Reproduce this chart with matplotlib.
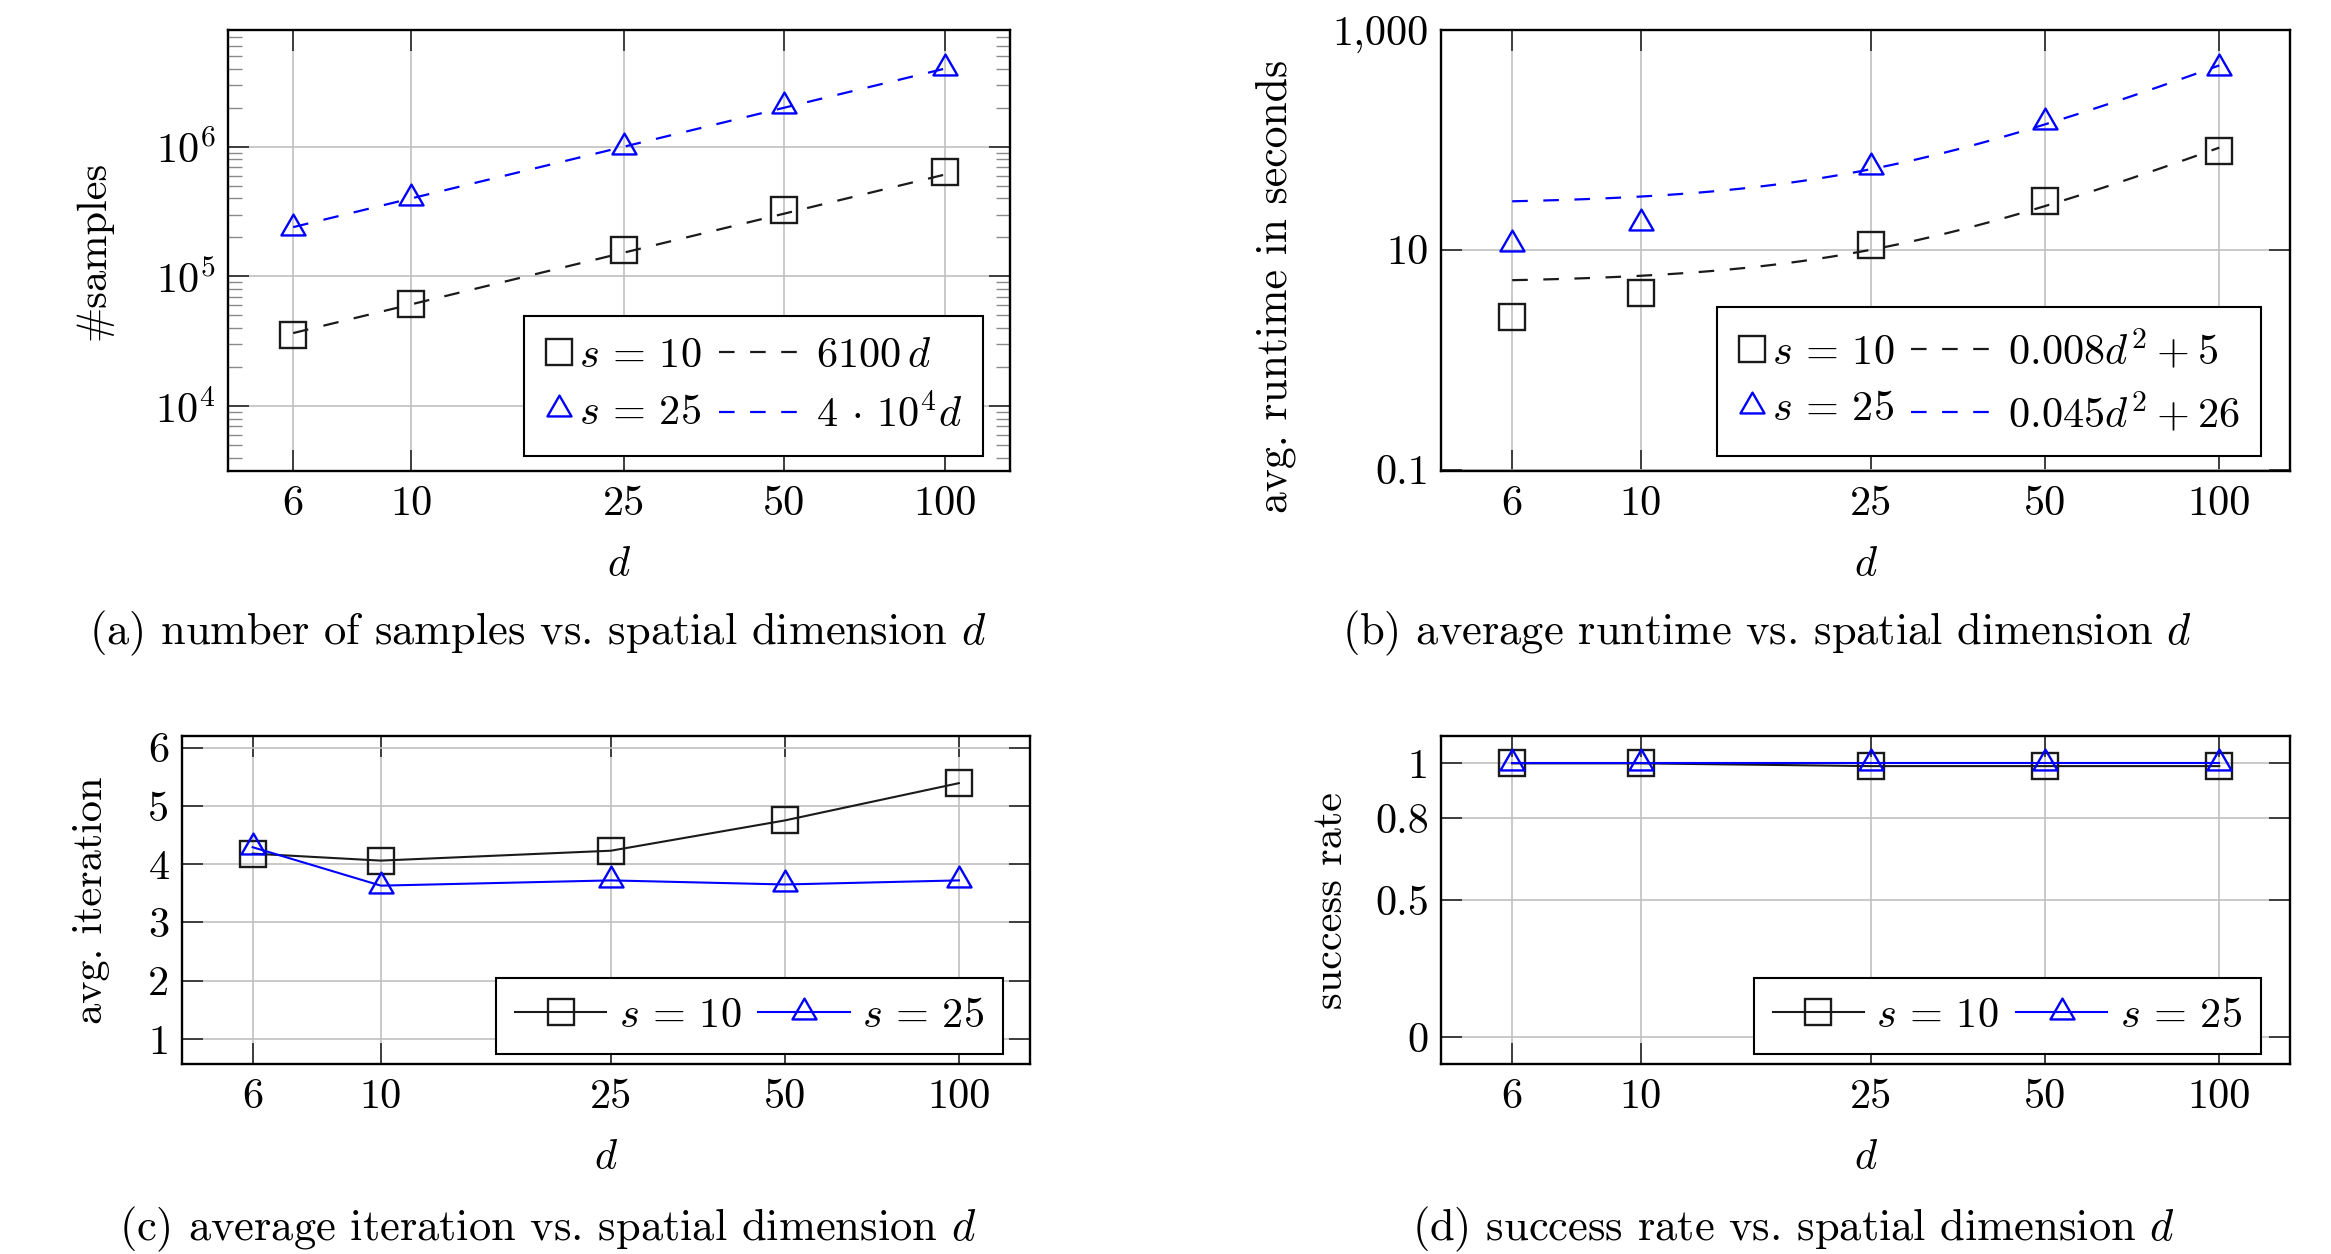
import numpy as np
import matplotlib
matplotlib.use("Agg")
import matplotlib.pyplot as plt
from matplotlib.path import Path
from matplotlib.legend_handler import HandlerLine2D
from matplotlib.ticker import NullLocator, LogLocator

plt.rcParams['font.family'] = 'serif'
plt.rcParams['font.serif'] = ['cmr10']
plt.rcParams['mathtext.fontset'] = 'cm'
plt.rcParams['axes.unicode_minus'] = False
plt.rcParams['axes.formatter.use_mathtext'] = True

# data
d = [6, 10, 25, 50, 100]
xtick_labels = ['6', '10', '25', '50', '100']

samples_s10 = [3.55e4, 6.15e4, 1.59e5, 3.23e5, 6.4e5]
samples_s25 = [2.35e5, 4.0e5, 1.0e6, 2.05e6, 4.05e6]
samples_fit = [6100, 4e4]            # c * d

runtime_s10 = [2.43, 4.06, 11.1, 28.0, 79.4]
runtime_s25 = [11.2, 17.6, 56.5, 147, 455]
runtime_fit_a = [0.008, 0.045]       # a * d^2 + b
runtime_fit_b = [5, 26]

iter_s10 = [4.18, 4.06, 4.23, 4.75, 5.39]
iter_s25 = [4.29, 3.63, 3.72, 3.65, 3.72]

success_s10 = [1.0, 1.0, 0.99, 0.99, 0.99]
success_s25 = [1.0, 1.0, 1.0, 1.0, 1.0]

W, H = 2331, 1254
BLK = '#1a1a1a'
BLU = '#0000ff'
FS = 30.5
CAP = 32

# pgfplots style triangle: anchored at its centre, not its bbox
tri = Path([(0, 1), (-0.866, -0.5), (0.866, -0.5), (0, 1)], closed=True)
sq_kw = dict(marker='s', ms=19, mfc='none', mec=BLK, mew=1.7)
tri_kw = dict(marker=tri, ms=20, mfc='none', mec=BLU, mew=1.7)


class MarkOnly(HandlerLine2D):
    def legend_artist(self, legend, orig_handle, fontsize, handlebox):
        handlebox.width = 0.64 * fontsize
        return super().legend_artist(legend, orig_handle, fontsize, handlebox)


def rect(l, r, t, b):
    return [l / W, 1 - b / H, (r - l) / W, (b - t) / H]


def style(ax):
    ax.set_xscale('log')
    ax.set_xlim(6 / 1.325, 100 * 1.325)
    ax.set_xticks(d)
    ax.set_xticklabels(xtick_labels)
    ax.xaxis.set_minor_locator(NullLocator())
    ax.grid(True, which='major', color='#c0c0c0', lw=1.2)
    ax.set_axisbelow(True)
    ax.tick_params(which='major', direction='in', top=True, right=True,
                   length=15, width=1.3, color='#333333', labelsize=FS)
    ax.tick_params(axis='x', pad=10.5)
    ax.tick_params(axis='y', pad=9)
    ax.tick_params(which='minor', direction='in', left=True, right=True,
                   length=10, width=1.0, color='#8a8a8a')
    for s in ax.spines.values():
        s.set_linewidth(1.7)
        s.set_color('black')


def fit_legend(ax, handles, labels, right, bottom, marks):
    leg = ax.legend(handles, labels, ncol=2, fontsize=FS, loc='lower right',
                    bbox_to_anchor=(right / W, 1 - bottom / H),
                    bbox_transform=fig.transFigure, borderaxespad=0,
                    fancybox=False, framealpha=1, edgecolor='black',
                    handlelength=2.0, handletextpad=0.15, columnspacing=0.4,
                    labelspacing=0.45, borderpad=0.5,
                    handler_map={m: MarkOnly() for m in marks})
    leg.get_frame().set_linewidth(1.5)


def line_legend(ax, handles, labels, right, bottom):
    leg = ax.legend(handles, labels, ncol=2, fontsize=FS, loc='lower right',
                    bbox_to_anchor=(right / W, 1 - bottom / H),
                    bbox_transform=fig.transFigure, borderaxespad=0,
                    fancybox=False, framealpha=1, edgecolor='black',
                    handlelength=2.15, handletextpad=0.3, columnspacing=0.4,
                    borderpad=0.45)
    leg.get_frame().set_linewidth(1.5)


fig = plt.figure(figsize=(W / 100, H / 100), dpi=100)
dd = np.geomspace(6, 100, 50)

# (a) number of samples
axa = fig.add_axes(rect(228, 1010, 30, 471))
style(axa)
axa.set_yscale('log')
axa.set_ylim(10 ** 3.5, 10 ** 6.9)
axa.set_yticks([1e4, 1e5, 1e6])
axa.set_yticklabels([r'$10^{4}$', r'$10^{5}$', r'$10^{6}$'])
axa.yaxis.set_minor_locator(LogLocator(base=10, subs=np.arange(2, 10)))
axa.yaxis.set_minor_formatter(plt.NullFormatter())
fa1, = axa.plot(dd, samples_fit[0] * dd, color=BLK, lw=1.6, dashes=(7, 7))
fa2, = axa.plot(dd, samples_fit[1] * dd, color=BLU, lw=1.6, dashes=(7, 7))
ma1, = axa.plot(d, samples_s10, ls='none', **sq_kw)
ma2, = axa.plot(d, samples_s25, ls='none', **tri_kw)
axa.set_ylabel('#samples', fontsize=FS)
axa.yaxis.set_label_coords(-0.148, 0.5)
axa.set_xlabel('$d$', fontsize=FS)
axa.xaxis.set_label_coords(0.5, -0.172)
fit_legend(axa, [ma1, ma2, fa1, fa2],
           [r'$s\,=\,10$', r'$s\,=\,25$', r'$\,6100\,d$', r'$\,4\,\cdot\,10^4d$'],
           983, 456, [ma1, ma2])

# (b) runtime
axb = fig.add_axes(rect(1441.5, 2290, 30, 471))
style(axb)
axb.set_yscale('log')
axb.set_ylim(0.097, 1000)
axb.set_yticks([0.1, 10, 1000])
axb.set_yticklabels(['0.1', '10', '1,000'])
axb.yaxis.set_minor_locator(NullLocator())
fb1, = axb.plot(dd, runtime_fit_a[0] * dd ** 2 + runtime_fit_b[0], color=BLK, lw=1.6, dashes=(7, 7))
fb2, = axb.plot(dd, runtime_fit_a[1] * dd ** 2 + runtime_fit_b[1], color=BLU, lw=1.6, dashes=(7, 7))
mb1, = axb.plot(d, runtime_s10, ls='none', **sq_kw)
mb2, = axb.plot(d, runtime_s25, ls='none', **tri_kw)
axb.set_ylabel('avg. runtime in seconds', fontsize=31.5)
axb.yaxis.set_label_coords(-0.172, 0.418)
axb.set_xlabel('$d$', fontsize=FS)
axb.xaxis.set_label_coords(0.5, -0.172)
fit_legend(axb, [mb1, mb2, fb1, fb2],
           [r'$s\,=\,10$', r'$s\,=\,25$', r'$\,0.008d^2+5$', r'$\,0.045d^2+26$'],
           2261, 456, [mb1, mb2])

# (c) iterations
axc = fig.add_axes(rect(182, 1029.5, 736, 1064.4))
style(axc)
axc.set_ylim(0.56, 6.2)
axc.set_yticks([1, 2, 3, 4, 5, 6])
axc.set_yticklabels(['1', '2', '3', '4', '5', '6'])
lc1, = axc.plot(d, iter_s10, color=BLK, lw=1.5, **sq_kw)
lc2, = axc.plot(d, iter_s25, color=BLU, lw=1.5, **tri_kw)
axc.set_ylabel('avg. iteration', fontsize=FS)
axc.yaxis.set_label_coords(-0.085, 0.5)
axc.set_xlabel('$d$', fontsize=FS)
axc.xaxis.set_label_coords(0.5, -0.228)
line_legend(axc, [lc1, lc2], [r'$s\,=\,10$', r'$s\,=\,25$'], 1003.5, 1054)

# (d) success rate
axd = fig.add_axes(rect(1441.5, 2290, 736, 1064.4))
style(axd)
axd.set_ylim(-0.1, 1.1)
axd.set_yticks([0, 0.5, 0.8, 1])
axd.set_yticklabels(['0', '0.5', '0.8', '1'])
ld1, = axd.plot(d, success_s10, color=BLK, lw=1.5, **sq_kw)
ld2, = axd.plot(d, success_s25, color=BLU, lw=1.5, **tri_kw)
axd.set_ylabel('success rate', fontsize=FS)
axd.yaxis.set_label_coords(-0.108, 0.5)
axd.set_xlabel('$d$', fontsize=FS)
axd.xaxis.set_label_coords(0.5, -0.228)
line_legend(axd, [ld1, ld2], [r'$s\,=\,10$', r'$s\,=\,25$'], 2261, 1054)

# captions
fig.text(89 / W, 1 - 633 / H, '(a) number of samples vs. spatial dimension $d$',
         fontsize=CAP, ha='left', va='center')
fig.text(1342 / W, 1 - 633 / H, '(b) average runtime vs. spatial dimension $d$',
         fontsize=CAP, ha='left', va='center')
fig.text(119 / W, 1 - 1229.5 / H, '(c) average iteration vs. spatial dimension $d$',
         fontsize=CAP, ha='left', va='center')
fig.text(1412 / W, 1 - 1229.5 / H, '(d) success rate vs. spatial dimension $d$',
         fontsize=CAP, ha='left', va='center')

fig.savefig('out.png', dpi=100)
